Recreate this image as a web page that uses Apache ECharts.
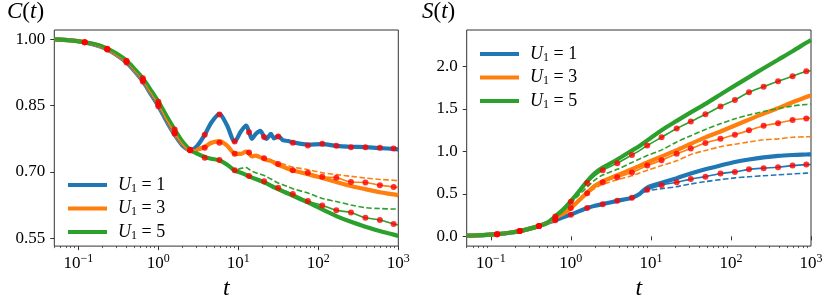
<!DOCTYPE html>
<html><head><meta charset="utf-8">
<script src="https://cdn.jsdelivr.net/npm/echarts@6/dist/echarts.min.js"></script>
<style>html,body{margin:0;padding:0;background:#fff}#c{width:831px;height:306px}</style>
</head><body><div id="c"></div>
<script>
// ---------- data ----------
const tC = [0.05,0.08,0.12,0.18,0.23,0.3,0.4,0.5,0.64,0.8,1.0,1.3,1.6,2.0,2.5,3.0,3.8,4.6,5.8,7.2,9,10.8,12.5,13.6,14.8,16.5,18.8,21,22.5,25.5,28,31.5,36,42,48,74,112,168,256,388,588,874,1000];
const tS = [0.05,0.08,0.12,0.18,0.23,0.3,0.4,0.5,0.64,0.8,1.0,1.3,1.6,2.0,2.5,3.8,5.8,7.2,9,13.6,21,31.5,48,74,112,168,256,388,588,874,1000];
const tDots = [0.12,0.23,0.4,0.64,1.0,1.6,2.5,3.8,5.8,9,13.6,21,31.5,48,74,112,168,256,388,588,874];

const C1thick = [1.000,0.998,0.9935,0.985,0.977,0.965,0.948,0.929,0.905,0.877,0.849,0.811,0.784,0.760,0.749,
 0.757,0.784,0.812,0.831,0.806,0.769,0.792,0.805,0.791,0.775,0.786,0.793,0.779,0.775,0.786,0.776,0.781,0.772,0.770,0.767,0.762,0.763,0.759,0.757,0.756,0.754,0.752,0.751];
const C1dot = [1.000,0.998,0.9935,0.985,0.977,0.965,0.948,0.929,0.905,0.877,0.849,0.811,0.787,0.760,0.749,
 0.757,0.784,0.812,0.830,0.806,0.769,0.792,0.805,0.790,0.775,0.786,0.793,0.779,0.775,0.786,0.776,0.780,0.772,0.769,0.766,0.760,0.764,0.759,0.756,0.756,0.755,0.753,0.752];
const C1dash = [1.000,0.998,0.9935,0.985,0.977,0.965,0.948,0.929,0.905,0.877,0.849,0.811,0.784,0.760,0.749,
 0.757,0.784,0.812,0.831,0.806,0.769,0.792,0.805,0.791,0.775,0.786,0.793,0.779,0.775,0.786,0.776,0.781,0.772,0.770,0.767,0.763,0.762,0.760,0.759,0.757,0.755,0.753,0.752];
const C3thick = [1.000,0.998,0.9936,0.986,0.978,0.966,0.950,0.931,0.908,0.880,0.853,0.815,0.788,0.763,0.749,
 0.750,0.757,0.766,0.770,0.760,0.742,0.741,0.746,0.742,0.735,0.737,0.733,0.730,0.727,0.725,0.721,0.716,0.712,0.707,0.703,0.695,0.686,0.677,0.668,0.661,0.654,0.649,0.647];
const C3dot = [1.000,0.998,0.9936,0.986,0.978,0.966,0.950,0.931,0.908,0.880,0.853,0.815,0.788,0.763,0.749,
 0.750,0.755,0.763,0.766,0.757,0.741,0.741,0.746,0.744,0.736,0.737,0.734,0.731,0.728,0.726,0.722,0.718,0.714,0.709,0.704,0.698,0.689,0.687,0.677,0.676,0.670,0.666,0.665];
const C3dash = [1.000,0.998,0.9936,0.986,0.978,0.966,0.950,0.931,0.908,0.880,0.853,0.815,0.788,0.763,0.749,
 0.750,0.757,0.766,0.770,0.760,0.742,0.741,0.746,0.743,0.736,0.737,0.734,0.731,0.729,0.727,0.724,0.721,0.718,0.714,0.711,0.705,0.698,0.694,0.690,0.686,0.683,0.681,0.680];
const C5thick = [1.000,0.998,0.9937,0.987,0.979,0.968,0.952,0.934,0.912,0.886,0.859,0.823,0.796,0.769,0.750,
 0.742,0.734,0.730,0.726,0.717,0.703,0.698,0.693,0.690,0.687,0.684,0.680,0.676,0.674,0.669,0.665,0.661,0.656,0.651,0.646,0.631,0.615,0.600,0.587,0.576,0.566,0.558,0.555];
const C5dot = [1.000,0.998,0.9937,0.987,0.979,0.968,0.952,0.934,0.912,0.886,0.859,0.823,0.796,0.769,0.750,
 0.741,0.732,0.730,0.727,0.718,0.704,0.699,0.694,0.691,0.689,0.686,0.682,0.679,0.676,0.671,0.668,0.664,0.659,0.654,0.650,0.634,0.624,0.613,0.608,0.596,0.591,0.582,0.580];
const C5dash = [1.000,0.998,0.9937,0.987,0.979,0.968,0.952,0.934,0.912,0.886,0.859,0.823,0.796,0.769,0.750,
 0.742,0.734,0.730,0.727,0.718,0.704,0.708,0.710,0.706,0.702,0.698,0.695,0.692,0.689,0.684,0.680,0.675,0.671,0.666,0.662,0.652,0.640,0.633,0.625,0.619,0.617,0.616,0.616];

const S1thick = [0.008,0.014,0.026,0.045,0.062,0.088,0.122,0.156,0.190,0.225,0.258,0.300,0.333,0.360,0.380,0.418,0.455,0.500,0.575,0.630,0.685,0.740,0.790,0.835,0.875,0.905,0.930,0.948,0.958,0.964,0.966];
const S1dot   = [0.008,0.014,0.026,0.045,0.062,0.088,0.122,0.156,0.190,0.225,0.255,0.297,0.333,0.360,0.378,0.418,0.455,0.490,0.548,0.603,0.637,0.674,0.703,0.740,0.759,0.789,0.803,0.814,0.833,0.845,0.846];
const S1dash  = [0.008,0.014,0.026,0.045,0.062,0.088,0.122,0.156,0.190,0.225,0.255,0.297,0.333,0.360,0.378,0.418,0.455,0.490,0.535,0.560,0.585,0.617,0.645,0.668,0.688,0.702,0.714,0.724,0.735,0.744,0.747];
const S3thick = [0.008,0.014,0.026,0.045,0.062,0.088,0.122,0.156,0.205,0.265,0.335,0.435,0.515,0.595,0.648,0.720,0.790,0.830,0.870,0.940,1.015,1.090,1.165,1.235,1.305,1.375,1.445,1.510,1.580,1.640,1.660];
const S3dot   = [0.008,0.014,0.026,0.045,0.062,0.088,0.122,0.156,0.203,0.262,0.333,0.430,0.507,0.585,0.637,0.696,0.751,0.790,0.833,0.896,0.973,1.033,1.100,1.148,1.196,1.248,1.303,1.333,1.370,1.389,1.392];
const S3dash  = [0.008,0.014,0.026,0.045,0.062,0.088,0.122,0.156,0.200,0.258,0.325,0.420,0.495,0.565,0.611,0.667,0.714,0.745,0.778,0.833,0.889,0.963,1.011,1.056,1.085,1.111,1.137,1.148,1.167,1.172,1.174];
const S5thick = [0.008,0.014,0.026,0.045,0.062,0.088,0.122,0.156,0.235,0.315,0.415,0.545,0.650,0.745,0.810,0.905,1.010,1.065,1.130,1.250,1.360,1.460,1.560,1.670,1.775,1.875,1.980,2.080,2.180,2.280,2.313];
const S5dot   = [0.008,0.014,0.026,0.045,0.062,0.088,0.122,0.156,0.233,0.310,0.407,0.530,0.629,0.715,0.778,0.862,0.959,1.010,1.070,1.167,1.270,1.352,1.437,1.529,1.607,1.696,1.763,1.826,1.885,1.945,1.950];
const S5dash  = [0.008,0.014,0.026,0.045,0.062,0.088,0.122,0.156,0.225,0.300,0.390,0.500,0.580,0.665,0.722,0.789,0.870,0.910,0.951,1.018,1.111,1.185,1.259,1.326,1.385,1.430,1.470,1.505,1.535,1.553,1.558];

const xMajorTicks = [0.1, 1, 10, 100, 1000];
const xMinorTicks = [0.05,0.06,0.07,0.08,0.09,0.2,0.3,0.4,0.5,0.6,0.7,0.8,0.9,2,3,4,5,6,7,8,9,20,30,40,50,60,70,80,90,200,300,400,500,600,700,800,900];
const yTicksC = [0.55, 0.70, 0.85, 1.00];
const yTicksS = [0.0, 0.5, 1.0, 1.5, 2.0];
const legendNames = ['U1=1','U1=3','U1=5'];

// ---------- chart ----------
const FONT = 'Liberation Serif';
const COLORS = ['#1f77b4','#ff7f0e','#2ca02c'];
const AX = '#333';
const chart = echarts.init(document.getElementById('c'), null, {renderer:'canvas'});

function pairs(t, v){ return t.map((x,i)=>[x, v[i]]); }
function dots(t, v){ return tDots.map(d => [d, v[t.indexOf(d)]]); }

const series = [];
function addGroup(gi, t, thick, dot, dash, color, name){
  const xi = gi*2, yi = gi;
  series.push({type:'line', name:name, xAxisIndex:xi, yAxisIndex:yi, data:pairs(t,thick), showSymbol:false, symbol:'none', smooth:0.3,
    lineStyle:{color:color, width:4.2}, itemStyle:{color:color}, z:2});
  series.push({type:'line', name:name+'_d', xAxisIndex:xi, yAxisIndex:yi, data:pairs(t,dot), showSymbol:false, symbol:'none', smooth:0.3,
    lineStyle:{color:color, width:1.6}, itemStyle:{color:color}, z:3});
  series.push({type:'line', name:name+'_s', xAxisIndex:xi, yAxisIndex:yi, data:pairs(t,dash), showSymbol:false, symbol:'none', smooth:0.3,
    lineStyle:{color:color, width:1.6, type:[5.5,2.5]}, itemStyle:{color:color}, z:3});
  series.push({type:'scatter', name:name+'_p', xAxisIndex:xi, yAxisIndex:yi, data:dots(t,dot), symbol:'circle', symbolSize:6,
    itemStyle:{color:'#ff0000'}, z:5});
}
addGroup(0, tC, C1thick, C1dot, C1dash, COLORS[0], legendNames[0]);
addGroup(0, tC, C3thick, C3dot, C3dash, COLORS[1], legendNames[1]);
addGroup(0, tC, C5thick, C5dot, C5dash, COLORS[2], legendNames[2]);
addGroup(1, tS, S1thick, S1dot, S1dash, COLORS[0], legendNames[0]);
addGroup(1, tS, S3thick, S3dot, S3dash, COLORS[1], legendNames[1]);
addGroup(1, tS, S5thick, S5dot, S5dash, COLORS[2], legendNames[2]);

function xMajor(gi){
  return {type:'log', gridIndex:gi, min:0.05, max:1000, logBase:10,
    name:'t', nameLocation:'middle', nameGap:17,
    nameTextStyle:{fontFamily:FONT, fontStyle:'italic', fontSize:24, color:'#000'},
    axisLine:{show:false}, splitLine:{show:false},
    axisTick:{show:true, inside:false, length:4, lineStyle:{color:AX, width:1}, customValues:xMajorTicks},
    axisLabel:{show:true, margin:7, customValues:xMajorTicks, color:'#000',
      formatter:function(v){ const e=Math.round(Math.log10(v)); return '{b|10}{s|'+(e<0?'\u2212'+(-e):e)+'}'; },
      rich:{ b:{fontFamily:FONT, fontSize:17, color:'#000'}, s:{fontFamily:FONT, fontSize:12, color:'#000', padding:[0,0,9,0]} } }
  };
}
function xMinor(gi){
  return {type:'log', gridIndex:gi, min:0.05, max:1000, logBase:10, position:'bottom',
    axisLine:{show:false}, splitLine:{show:false}, axisLabel:{show:false},
    axisTick:{show:true, length:2, lineStyle:{color:AX, width:0.8}, customValues:xMinorTicks}};
}
function yAx(gi, mn, mx, ticks, dec){
  return {type:'value', gridIndex:gi, min:mn, max:mx, splitLine:{show:false}, axisLine:{show:false},
    axisTick:{show:true, length:4, lineStyle:{color:AX, width:1}, customValues:ticks},
    axisLabel:{margin:9, customValues:ticks, fontFamily:FONT, fontSize:17, color:'#000', formatter:v=>v.toFixed(dec)}};
}
const legRich = {
  u:{fontFamily:FONT, fontStyle:'italic', fontSize:18, color:'#000', lineHeight:20, padding:[0,0,0,6]},
  s:{fontFamily:FONT, fontSize:12, color:'#000', lineHeight:20, padding:[7,0,0,0]},
  n:{fontFamily:FONT, fontSize:18, color:'#000', lineHeight:20}
};
function legFmt(name){ const v=name.split('=')[1]; return '{u|U}{s|1}{n| = '+v+'}'; }
function legend(left, top){
  return {data:legendNames, orient:'vertical', left:left, top:top, icon:'rect', itemWidth:39, itemHeight:4, itemGap:3.5,
    padding:0, selectedMode:false, formatter:legFmt, textStyle:{rich:legRich, lineHeight:20}};
}
const titleRich = {
  i:{fontFamily:FONT, fontStyle:'italic', fontWeight:'normal', fontSize:23, color:'#000'},
  n:{fontFamily:FONT, fontWeight:'normal', fontSize:23, color:'#000'}
};

chart.setOption({
  animation:false,
  backgroundColor:'#fff',
  title:[
    {text:'{i|C}{n|(}{i|t}{n|)}', left:7, top:0, padding:0, textStyle:{fontWeight:'normal', rich:titleRich}},
    {text:'{i|S}{n|(}{i|t}{n|)}', left:422, top:0, padding:0, textStyle:{fontWeight:'normal', rich:titleRich}}
  ],
  grid:[
    {left:54.3, right:432.7, top:30, bottom:47.7, show:true, borderColor:AX, borderWidth:1, backgroundColor:'transparent'},
    {left:466.7, right:20, top:30, bottom:47.7, show:true, borderColor:AX, borderWidth:1, backgroundColor:'transparent'}
  ],
  legend:[legend(68,175), legend(480,44)],
  xAxis:[xMajor(0), xMinor(0), xMajor(1), xMinor(1)],
  yAxis:[yAx(0,0.532,1.0214,yTicksC,2), yAx(1,-0.115,2.43,yTicksS,1)],
  series:series
});
</script></body></html>
